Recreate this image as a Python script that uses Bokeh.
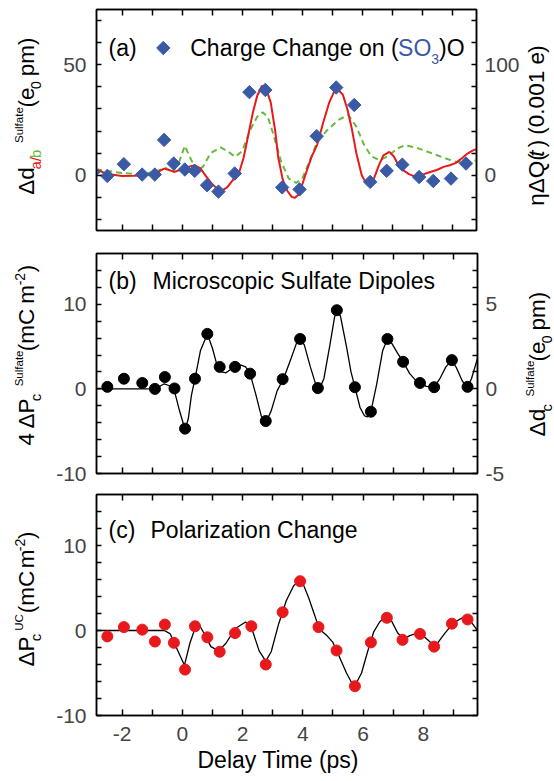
import math
from bokeh.plotting import figure
from bokeh.models import Range1d, LinearAxis, FixedTicker, Label
from bokeh.layouts import column, row
from bokeh.embed import file_html
from bokeh.resources import INLINE

# ---------------- data ----------------
# (a) charge change on (SO3)O  (right axis, 0.001 e-)
charge_t = [-2.95, -2.49, -1.94, -1.33, -0.91, -0.60, -0.28, 0.09, 0.42, 0.83, 1.21, 1.75,
            2.24, 2.77, 3.33, 3.91, 4.48, 5.13, 5.73, 6.26, 6.81, 7.33, 7.89, 8.36, 8.95, 9.45]
charge_q = [3.0, -0.6, 10.0, 0.6, 0.6, 32.0, 10.6, 5.2, 4.0, -9.0, -14.8, 1.6,
            75.2, 77.2, -11.0, -12.8, 35.4, 79.4, 63.6, -6.0, 4.0, 9.6, -1.6, -5.2, -3.0, 10.6]
# (a) red curve  (delta d_a, left axis)
da_t = [-2.86, -2.6, -2.3, -2.0, -1.6, -1.2, -0.9, -0.6, -0.4, -0.25, -0.05, 0.2, 0.42, 0.6, 0.8,
        1.0, 1.2, 1.33, 1.5, 1.7, 1.87, 2.05, 2.2, 2.35, 2.5, 2.66, 2.8, 2.95, 3.1, 3.2, 3.35,
        3.5, 3.65, 3.76, 3.9, 4.1, 4.3, 4.5, 4.7, 4.9, 5.05, 5.2, 5.35, 5.5, 5.65, 5.8, 5.98,
        6.1, 6.26, 6.4, 6.55, 6.7, 6.9, 7.05, 7.2, 7.36, 7.55, 7.75, 8.0, 8.26, 8.5, 8.7, 8.91,
        9.1, 9.3, 9.5, 9.65, 9.8]
da_v = [2.6, 1.2, 0.2, -0.3, -0.2, 0.1, 0.8, 3.0, 2.2, 1.5, 2.5, 3.8, 4.5, 3.2, -0.5,
        -4.0, -6.5, -6.8, -5.5, -2.0, 0.0, 8.0, 18.0, 28.0, 36.0, 40.5, 39.0, 33.0, 20.0, 8.0, -2.0,
        -7.0, -9.8, -10.2, -8.5, 0.0, 8.0, 14.0, 24.0, 33.0, 37.5, 38.6, 36.5, 30.0, 21.0, 10.0, 0.0,
        -3.0, -3.8, -1.0, 4.5, 9.0, 10.6, 8.5, 4.5, 2.3, 0.5, -0.5, 0.3, 1.5, 2.5, 3.8, 4.5,
        5.5, 7.5, 9.8, 11.0, 11.8]
# (a) green dashed curve (delta d_b, left axis)
db_t = [-2.86, -2.4, -2.0, -1.6, -1.2, -0.85, -0.55, -0.3, -0.1, 0.09, 0.3, 0.5, 0.7, 0.95,
        1.28, 1.55, 1.77, 2.0, 2.25, 2.5, 2.68, 2.85, 3.05, 3.3, 3.55, 3.8, 4.0, 4.2, 4.48,
        4.8, 5.2, 5.53, 5.8, 6.05, 6.3, 6.59, 6.9, 7.15, 7.42, 7.8, 8.3, 8.8, 9.14, 9.5, 9.8]
db_v = [2.7, 1.8, 1.0, 0.6, 0.8, 1.8, 3.3, 1.5, 6.0, 13.3, 7.0, 1.8, 4.0, 10.0,
        12.6, 10.5, 8.3, 11.0, 20.0, 26.5, 28.5, 26.5, 18.0, 6.0, -1.5, -3.5, -1.5, 5.0, 14.4,
        20.0, 25.0, 27.3, 22.0, 14.0, 8.5, 6.8, 9.0, 12.0, 13.6, 12.5, 10.0, 7.5, 6.0, 6.0, 6.8]

# (b) microscopic sulfate dipoles (left axis, 4 dP_c)
dip_t = [-2.49, -1.94, -1.33, -0.91, -0.58, -0.26, 0.09, 0.42, 0.83, 1.24, 1.75, 2.25, 2.77,
         3.33, 3.91, 4.5, 5.13, 5.73, 6.26, 6.81, 7.33, 7.89, 8.36, 8.95, 9.47]
dip_v = [0.24, 1.2, 0.7, 0.0, 1.4, 0.05, -4.7, 1.2, 6.5, 2.6, 2.6, 1.8, -3.8,
         1.15, 5.9, 0.1, 9.3, 0.2, -2.7, 5.9, 3.2, 0.7, 0.2, 3.4, 0.24]
dipfit_t = [-2.85, -1.5, -1.0, -0.8, -0.6, -0.45, -0.28, -0.1, 0.09, 0.2, 0.3, 0.42, 0.6, 0.83,
            1.0, 1.15, 1.3, 1.45, 1.6, 1.8, 1.95, 2.1, 2.25, 2.45, 2.62, 2.77, 2.95, 3.15, 3.36,
            3.6, 3.8, 3.91, 4.05, 4.25, 4.45, 4.55, 4.7, 4.9, 5.05, 5.13, 5.25, 5.45, 5.6, 5.73,
            5.9, 6.05, 6.15, 6.26, 6.45, 6.65, 6.81, 6.95, 7.15, 7.33, 7.55, 7.75, 7.89, 8.1,
            8.36, 8.55, 8.75, 8.95, 9.1, 9.3, 9.47, 9.6, 9.8]
dipfit_v = [0.0, 0.0, 0.0, 0.2, 0.6, 0.4, 0.0, -2.5, -4.8, -3.5, -0.8, 1.2, 4.5, 6.5,
            4.8, 2.8, 2.0, 1.9, 2.3, 2.7, 2.8, 2.6, 1.8, -0.8, -3.2, -4.0, -2.6, -0.2, 1.2,
            3.5, 5.5, 5.9, 5.2, 2.6, 0.3, 0.0, 1.2, 5.2, 8.4, 9.3, 8.6, 5.0, 2.0, 0.2,
            -2.2, -3.2, -3.3, -2.7, 0.5, 4.5, 5.9, 5.4, 4.2, 3.2, 1.8, 1.0, 0.7, 0.3,
            0.2, 1.2, 2.6, 3.4, 2.5, 0.9, 0.24, 1.2, 3.6]

# (c) polarization change
pol_t = [-2.49, -1.94, -1.33, -0.91, -0.58, -0.28, 0.09, 0.42, 0.83, 1.24, 1.75, 2.29, 2.77,
         3.33, 3.91, 4.52, 5.12, 5.73, 6.26, 6.79, 7.31, 7.89, 8.36, 8.95, 9.47]
pol_v = [-0.7, 0.4, 0.1, -1.3, 0.7, -1.45, -4.6, 0.5, -0.8, -2.5, -0.3, 0.5, -4.0,
         2.15, 5.8, 0.4, -2.35, -6.55, -1.4, 1.5, -1.1, -0.4, -1.9, 0.8, 1.3]
polfit_t = [-2.85, -1.0, -0.6, -0.4, -0.2, 0.07, 0.25, 0.5, 0.7, 0.95, 1.2, 1.45, 1.75, 2.1,
            2.3, 2.55, 2.77, 2.95, 3.2, 3.45, 3.7, 3.96, 4.2, 4.45, 4.6, 4.8, 5.0, 5.12, 5.3,
            5.45, 5.6, 5.76, 5.95, 6.15, 6.35, 6.55, 6.75, 6.95, 7.15, 7.35, 7.55, 7.8, 8.05,
            8.3, 8.45, 8.7, 9.0, 9.3, 9.55, 9.8]
polfit_v = [0.0, 0.0, 0.0, -0.4, -2.0, -4.1, -1.5, 1.05, -0.2, -1.9, -2.4, -1.5, 0.2, 1.0,
            0.3, -2.4, -3.6, -2.5, 0.8, 3.5, 5.3, 5.9, 3.8, 1.2, 0.0, -0.6, -1.4, -2.35, -3.8,
            -5.0, -6.0, -6.3, -5.0, -2.5, -0.2, 1.0, 1.65, 1.1, -0.3, -1.0, -0.6, -0.3, -0.8,
            -1.6, -1.6, -0.4, 0.9, 1.5, 1.2, 0.0]

x_ticks = list(range(-2, 10))
x_labels = [-2, 0, 2, 4, 6, 8]

# ---------------- style ----------------
FONT = "Liberation Sans"
X0, X1 = -2.85, 9.8
FL = 96          # page x of frame left
FW = 381         # frame width
ML = 50          # page x where main figures start
MR = 522         # page x where main figures end
PW = 554
BLUE = "#3a5aa6"
RED = "#e8191c"
GREEN = "#66bb3c"
BASE_FIX = 0.4   # label anchor correction (fraction of font size)
CW = {" ": .278, "(": .333, ")": .333, "-": .333, ".": .278, "/": .278,
      "A": .667, "C": .722, "D": .722, "M": .833, "O": .778, "P": .667, "Q": .778,
      "S": .667, "T": .611, "U": .722, "a": .556, "b": .556, "c": .5, "d": .556,
      "e": .556, "f": .278, "g": .556, "h": .556, "i": .222, "l": .222, "m": .833,
      "n": .556, "o": .556, "p": .556, "r": .333, "s": .5, "t": .278, "u": .556,
      "y": .5, "z": .5, "Δ": .668, "η": .556}


def tw(s, size):
    return sum(CW.get(c, .556) for c in s) * size


def make_fig(page_top, top, fh, bottom, yr):
    p = figure(width=MR - ML, height=top + fh + bottom, x_range=Range1d(X0, X1),
               y_range=Range1d(*yr), output_backend="svg", toolbar_location=None,
               x_axis_location=None, y_axis_location=None,
               min_border_left=FL - ML, min_border_right=MR - FL - FW,
               min_border_top=top, min_border_bottom=bottom)
    p.grid.visible = False
    p.outline_line_color = "black"
    p.outline_line_width = 1.5
    p.background_fill_color = "white"
    p.border_fill_color = "white"
    p._map = (FL, (X1 - X0) / FW, X0, page_top + top, (yr[1] - yr[0]) / fh, yr[1])
    return p


def make_strip(x0, x1, y0, y1):
    p = figure(width=x1 - x0, height=y1 - y0, x_range=Range1d(x0, x1),
               y_range=Range1d(y1, y0), output_backend="svg", toolbar_location=None,
               x_axis_location=None, y_axis_location=None, min_border=0)
    p.grid.visible = False
    p.outline_line_color = None
    p.background_fill_color = "white"
    p.border_fill_color = "white"
    p._map = (x0, 1.0, x0, y0, -1.0, y0)
    return p


def add_axis(p, side, ticks, labels, rng=None, tick_len=5, size="21px", standoff=10):
    kw = {"y_range_name": rng} if rng else {}
    ax = LinearAxis(**kw)
    ax.ticker = FixedTicker(ticks=ticks, minor_ticks=[])
    ax.major_label_overrides = {t: (str(t) if t in labels else "") for t in ticks}
    ax.major_tick_in = tick_len
    ax.major_tick_out = 0
    ax.minor_tick_in = 0
    ax.minor_tick_out = 0
    ax.major_tick_line_width = 1.5
    ax.axis_line_width = 1.5
    ax.major_label_text_font = FONT
    if labels:
        ax.major_label_text_font_size = size
        ax.major_label_standoff = standoff
    else:
        ax.major_label_text_font_size = "1px"
        ax.major_label_standoff = 0
    p.add_layout(ax, side)
    return ax


def put(p, px, py, text, size, color="black", angle=0.0, style="normal"):
    if angle == 0.0:
        py -= BASE_FIX * size
    else:
        px -= BASE_FIX * size
    ox, sx, dx, oy, sy, dy = p._map
    x = dx + (px - ox) * sx
    y = dy - (py - oy) * sy
    p.add_layout(Label(x=x, y=y, text=text, angle=angle, text_font=FONT,
                       text_font_size=f"{size}px", text_color=color,
                       text_font_style=style, text_baseline="alphabetic",
                       text_align="left"))


def rot_rich(p, bx, start_y, pieces):
    y = start_y
    for text, size, shift, color, style, gap in pieces:
        y -= gap
        put(p, bx + shift, y, text, size, color, math.pi / 2, style)
        y -= tw(text, size)


def hor_rich(p, x, by, pieces):
    for text, size, shift, color, style, gap in pieces:
        x += gap
        put(p, x, by + shift, text, size, color, 0.0, style)
        x += tw(text, size)


def x_axes(p, bottom_labels):
    add_axis(p, "above", x_ticks, [], tick_len=6)
    add_axis(p, "below", x_ticks, bottom_labels, tick_len=6, standoff=11)


K = "black"
N = "normal"
LS = 22.5
SP = 0.278 * LS   # width of a space

# ---------------- panel (a) ----------------
pa = make_fig(0, 9, 221, 11, (-25, 75))
pa.extra_y_ranges = {"q": Range1d(-50, 150)}
x_axes(pa, [])
add_axis(pa, "left", list(range(-20, 71, 10)), [0, 50])
add_axis(pa, "right", list(range(-40, 141, 20)), [0, 100], rng="q", standoff=8)
pa.line(db_t, db_v, line_color=GREEN, line_width=2, line_dash="6 4")
pa.line(da_t, da_v, line_color=RED, line_width=2)
pa.scatter(charge_t, charge_q, y_range_name="q", marker="square", angle=math.pi / 4,
           size=9.5, fill_color=BLUE, line_color=BLUE)
# legend key
ox, sx, dx, oy, sy, dy = pa._map
pa.scatter([dx + (163 - ox) * sx], [dy - (47.5 - oy) * sy],
           marker="square", angle=math.pi / 4, size=9.5, fill_color=BLUE, line_color=BLUE)
put(pa, 108, 57, "(a)", 23)
hor_rich(pa, 190, 57, [("Charge Change on (", 23, 0, K, N, 0), ("SO", 23, 0, BLUE, N, 0),
                       ("3", 14, 7, BLUE, N, 0), (")O", 23, 0, K, N, 0)])
la = make_strip(0, ML, 0, 241)
rot_rich(la, 35, 202, [("Δd", LS, 0, K, N, 0), ("a/", 15, 6, RED, N, 0), ("b", 15, 6, GREEN, N, 0),
                       ("Sulfate", 11.5, -12, K, N, 8), ("(e", LS, 0, K, N, 3),
                       ("0", 14, 6, K, N, 0), ("pm)", LS, 0, K, N, SP)])
ra = make_strip(MR, PW, 0, 241)
rot_rich(ra, 545, 214, [("ηΔQ(", LS, 0, K, N, 0), ("t", LS, 0, K, "italic", 1),
                        (")", LS, 0, K, N, 4), ("(0.001 e", LS, 0, K, N, SP),
                        ("-", 14, -8, K, N, 0.5), (")", LS, 0, K, N, 1.5)])

# ---------------- panel (b) ----------------
pb = make_fig(241, 12, 220, 11, (-10, 16))
pb.extra_y_ranges = {"d": Range1d(-5, 8)}
x_axes(pb, [])
add_axis(pb, "left", list(range(-10, 15, 2)), [-10, 0, 10])
add_axis(pb, "right", list(range(-5, 8)), [-5, 0, 5], rng="d", standoff=8)
pb.line(dipfit_t, dipfit_v, line_color="black", line_width=1.3)
pb.scatter(dip_t, dip_v, size=11, fill_color="black", line_color="black")
put(pb, 108, 290, "(b)", 23)
put(pb, 152, 290, "Microscopic Sulfate Dipoles", 23)
lb = make_strip(0, ML, 241, 484)
rot_rich(lb, 35, 453, [("4", LS, 0, K, N, 0), ("ΔP", LS, 0, K, N, SP), ("c", 15, 6, K, N, 0),
                       ("Sulfate", 11.5, -12, K, N, 9), ("(mC", LS, 0, K, N, 3),
                       ("m", LS, 0, K, N, 10), ("-2", 14, -10, K, N, 1.5), (")", LS, 0, K, N, 2)])
rb = make_strip(MR, PW, 241, 484)
rot_rich(rb, 546, 443, [("Δd", LS, 0, K, N, 0), ("c", 15, 6, K, N, 0),
                        ("Sulfate", 11.5, -12, K, N, 9), ("(e", LS, 0, K, N, 3),
                        ("0", 14, 6, K, N, 0), ("pm)", LS, 0, K, N, SP)])

# ---------------- panel (c) ----------------
pc = make_fig(484, 10, 221, 31, (-10, 16))
x_axes(pc, x_labels)
add_axis(pc, "left", list(range(-10, 15, 2)), [-10, 0, 10])
add_axis(pc, "right", list(range(-10, 15, 2)), [])
pc.line(polfit_t, polfit_v, line_color="black", line_width=1.3)
pc.scatter(pol_t, pol_v, size=11, fill_color=RED, line_color=RED)
put(pc, 108, 539, "(c)", 23)
put(pc, 150, 539, "Polarization Change", 23)
lc = make_strip(0, ML, 484, 746)
rot_rich(lc, 35, 688, [("ΔP", LS, 0, K, N, 0), ("c", 15, 6, K, N, 0),
                       ("UC", 11.5, -12, K, N, 5), ("(mC", LS, 0, K, N, 4),
                       ("m", LS, 0, K, N, 11), ("-2", 14, -10, K, N, 1.5), (")", LS, 0, K, N, 2)])
rc = make_strip(MR, PW, 484, 746)
bt = make_strip(0, PW, 746, 779)
put(bt, 197, 769, "Delay Time (ps)", 23)

layout = column(row(la, pa, ra, spacing=0), row(lb, pb, rb, spacing=0),
                row(lc, pc, rc, spacing=0), bt, spacing=0)
open("out.html", "w").write(file_html(layout, INLINE))
